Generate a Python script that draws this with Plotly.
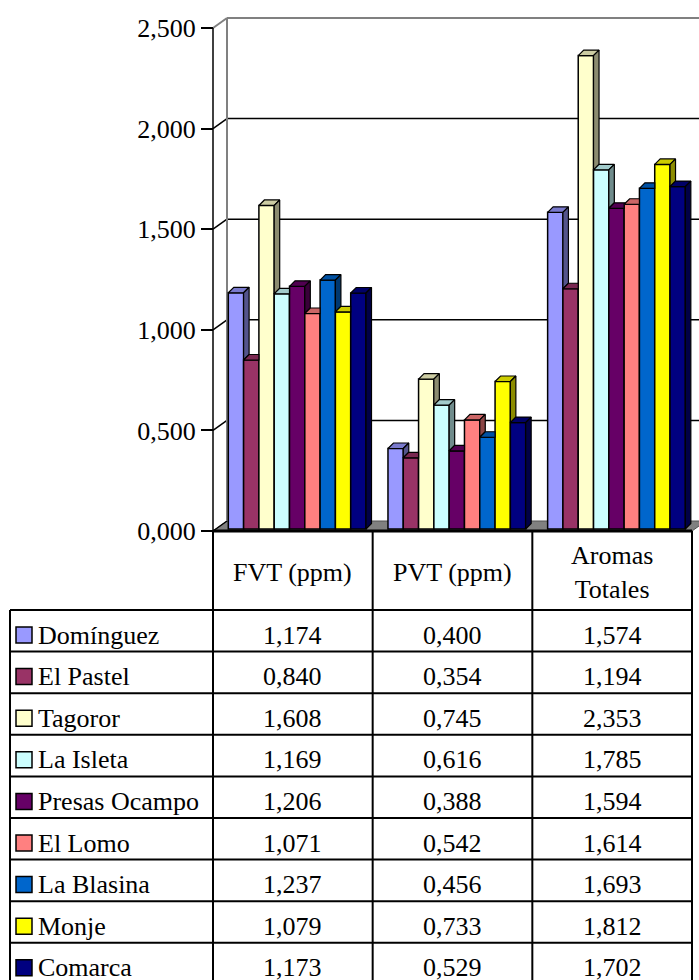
import plotly.graph_objects as go

# ---------------- data ----------------
categories = ["FVT (ppm)", "PVT (ppm)", "Aromas<br>Totales"]
series = ["Domínguez", "El Pastel", "Tagoror", "La Isleta", "Presas Ocampo",
          "El Lomo", "La Blasina", "Monje", "Comarca"]
colors = ["#9999FF", "#993366", "#FFFFCC", "#CCFFFF", "#660066",
          "#FF8080", "#0066CC", "#FFFF00", "#000080"]
fvt = [1.174, 0.840, 1.608, 1.169, 1.206, 1.071, 1.237, 1.079, 1.173]
pvt = [0.400, 0.354, 0.745, 0.616, 0.388, 0.542, 0.456, 0.733, 0.529]
aromas = [1.574, 1.194, 2.353, 1.785, 1.594, 1.614, 1.693, 1.812, 1.702]
y_ticks = [0.0, 0.5, 1.0, 1.5, 2.0, 2.5]

values = [fvt, pvt, aromas]
n_cat, n_ser = len(categories), len(series)

# ---------------- geometry (pixels -> data) ----------------
W, H = 699, 980
PX_LEFT, PX_RIGHT = 213, 692
PX_Y0, PX_YTOP = 531, 28
PX_DOM_BOTTOM = 545
KX = (PX_RIGHT - PX_LEFT) / n_cat
KY = (PX_Y0 - PX_YTOP) / (y_ticks[-1] - y_ticks[0])
YMAX = y_ticks[-1]

WDX, WDY = 14 / KX, 10 / KY          # wall depth
BDX, BDY = 5.5 / KX, 5.5 / KY        # bar depth
BLEFT, BW = 15.3 / KX, 15.3 / KX     # bar placement in category
BBASE = 2 / KY

x_range = [-0.5 - PX_LEFT / KX, n_cat - 0.5 + (W - PX_RIGHT) / KX]
y_range = [-(PX_DOM_BOTTOM - PX_Y0) / KY, YMAX + PX_YTOP / KY]
y_domain = [1 - PX_DOM_BOTTOM / H, 1]

FONT = "Liberation Serif"


def py(px):
    return 1 - px / H


def pxp(px):
    return px / W


def shade(hexc, f):
    h = hexc.lstrip("#")
    r, g, b = int(h[0:2], 16), int(h[2:4], 16), int(h[4:6], 16)
    return f"rgb({int(r * f)},{int(g * f)},{int(b * f)})"


def fmt(v):
    return f"{v:.3f}".replace(".", ",")


fig = go.Figure()

# ---------------- front faces (bars) ----------------
for i, name in enumerate(series):
    fig.add_trace(go.Bar(
        x=list(range(n_cat)), y=[values[c][i] for c in range(n_cat)],
        base=BBASE, width=BW, offset=-0.5 + BLEFT + i * BW,
        marker=dict(color=colors[i], line=dict(color="black", width=1.5)),
        name=name, showlegend=False, hoverinfo="skip"))

# ---------------- top / side faces (visible parts only) ----------------
s = BDY / BDX
for i, name in enumerate(series):
    tx, ty, sx, sy = [], [], [], []
    for c in range(n_cat):
        b = BBASE
        T = BBASE + values[c][i]
        x0 = c - 0.5 + BLEFT + i * BW
        x1 = x0 + BW
        Tn = BBASE + values[c][i + 1] if i < n_ser - 1 else b
        if Tn <= T:
            top = [(x0, T), (x1, T), (x1 + BDX, T + BDY), (x0 + BDX, T + BDY)]
            lo = max(Tn, b)
            side = [(x1, lo), (x1 + BDX, lo + BDY), (x1 + BDX, T + BDY), (x1, T)]
        else:
            hh = min(Tn, T + BDY)
            top = [(x0, T), (x1, T), (x1, hh),
                   (x1 + (T + BDY - hh) / s, T + BDY), (x0 + BDX, T + BDY)]
            side = None
        top = top + [top[0]]
        tx += [p[0] for p in top] + [None]
        ty += [p[1] for p in top] + [None]
        if side:
            side = side + [side[0]]
            sx += [p[0] for p in side] + [None]
            sy += [p[1] for p in side] + [None]
    fig.add_trace(go.Scatter(x=tx, y=ty, mode="lines", fill="toself",
                             fillcolor=shade(colors[i], 0.8),
                             line=dict(color="black", width=1.2),
                             showlegend=False, hoverinfo="skip"))
    if sx:
        fig.add_trace(go.Scatter(x=sx, y=sy, mode="lines", fill="toself",
                                 fillcolor=shade(colors[i], 0.55),
                                 line=dict(color="black", width=1.2),
                                 showlegend=False, hoverinfo="skip"))

shapes = []
XL, XR = -0.5, n_cat - 0.5
# floor
shapes.append(dict(type="path", xref="x", yref="y", layer="below",
                   path=f"M {XL},0 L {XL + WDX},{WDY} L {XR + WDX},{WDY} L {XR},0 Z",
                   fillcolor="#808080", line=dict(color="#505050", width=1)))
# back wall gridlines and side wall diagonals
for t in y_ticks:
    col = "#808080" if t == YMAX else "black"
    wid = 2 if t == YMAX else 1.5
    if t > 0:
        shapes.append(dict(type="line", xref="x", yref="y", layer="below",
                           x0=XL + WDX, y0=t + WDY, x1=XR + WDX, y1=t + WDY,
                           line=dict(color=col, width=wid)))
    shapes.append(dict(type="line", xref="x", yref="y", layer="below",
                       x0=XL, y0=t, x1=XL + WDX, y1=t + WDY,
                       line=dict(color=col, width=wid)))
# back wall left edge
shapes.append(dict(type="line", xref="x", yref="y", layer="below",
                   x0=XL + WDX, y0=WDY, x1=XL + WDX, y1=YMAX + WDY,
                   line=dict(color="#808080", width=2)))
# front value axis
shapes.append(dict(type="line", xref="x", yref="y", layer="below",
                   x0=XL, y0=0, x1=XL, y1=YMAX,
                   line=dict(color="black", width=1.5)))
# floor front edge
shapes.append(dict(type="line", xref="x", yref="y", layer="above",
                   x0=XL, y0=0, x1=XR, y1=0,
                   line=dict(color="black", width=3)))

# ---------------- data table ----------------
ROW0, ROWH = 610, 41.6
TBL_LEFT = 10
for k in range(n_cat + 1):
    shapes.append(dict(type="line", xref="x", yref="paper",
                       x0=XL + k, x1=XL + k, y0=py(PX_Y0), y1=py(H + 10),
                       line=dict(color="black", width=2)))
shapes.append(dict(type="line", xref="paper", yref="paper",
                   x0=pxp(TBL_LEFT), x1=pxp(TBL_LEFT), y0=py(ROW0), y1=py(H + 10),
                   line=dict(color="black", width=2)))
for r in range(n_ser + 1):
    yy = ROW0 + r * ROWH
    shapes.append(dict(type="line", xref="paper", yref="paper",
                       x0=pxp(TBL_LEFT), x1=pxp(PX_RIGHT), y0=py(yy), y1=py(yy),
                       line=dict(color="black", width=2)))

annotations = []
for c, cat in enumerate(categories):
    annotations.append(dict(x=c, xref="x", y=py(572.5), yref="paper",
                            text=cat, showarrow=False, xanchor="center", yanchor="middle",
                            font=dict(family=FONT, size=26, color="black")))
for i, name in enumerate(series):
    top = ROW0 + i * ROWH
    shapes.append(dict(type="rect", xref="paper", yref="paper",
                       x0=pxp(16), x1=pxp(32), y0=py(top + 17), y1=py(top + 33),
                       fillcolor=colors[i], line=dict(color="black", width=1.5)))
    annotations.append(dict(x=pxp(36), xref="paper", y=py(top + 25), yref="paper",
                            text=name, showarrow=False, xanchor="left", yanchor="middle",
                            font=dict(family=FONT, size=26, color="black")))
    for c in range(n_cat):
        annotations.append(dict(x=c, xref="x", y=py(top + 25), yref="paper",
                                text=fmt(values[c][i]), showarrow=False,
                                xanchor="center", yanchor="middle",
                                font=dict(family=FONT, size=26, color="black")))

fig.update_layout(
    width=W, height=H, margin=dict(l=0, r=0, t=0, b=0, pad=0),
    paper_bgcolor="white", plot_bgcolor="white",
    barmode="overlay", separators=",.",
    font=dict(family=FONT, color="black"),
    showlegend=False, shapes=shapes, annotations=annotations,
    xaxis=dict(domain=[0, 1], range=x_range, visible=False, fixedrange=True),
    yaxis=dict(domain=y_domain, range=y_range, anchor="free", position=PX_LEFT / W,
               tickvals=y_ticks, tickformat=".3f", ticks="outside", ticklen=12,
               tickwidth=1.5, tickcolor="black", showgrid=False, zeroline=False,
               showline=False, fixedrange=True,
               tickfont=dict(family=FONT, size=26, color="black")),
)

fig.write_html("out.html", config={"displayModeBar": False},
               post_script="document.body.style.margin='0px';document.body.style.overflow='hidden';")
